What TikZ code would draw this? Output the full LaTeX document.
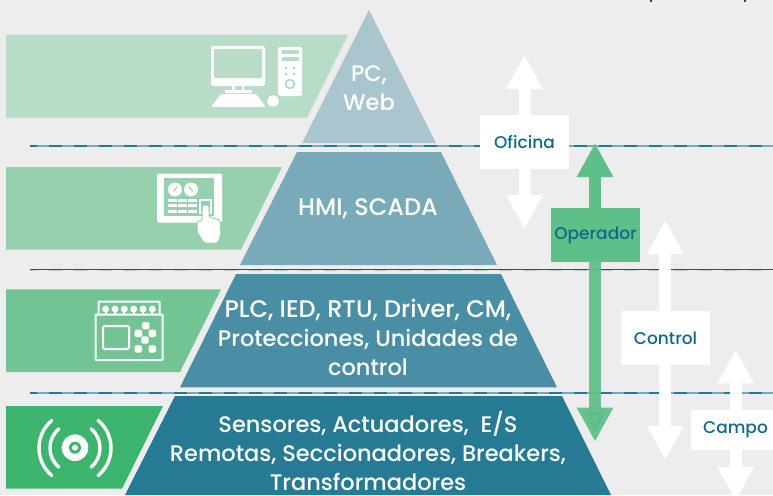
\documentclass[tikz,border=0pt]{standalone}
\usepackage{fontspec}
\setmainfont{Poppins Medium}
\usetikzlibrary{arrows.meta}
\definecolor{bgc}{HTML}{EDEDED}
\definecolor{tierA}{HTML}{A9C6CE}
\definecolor{tierB}{HTML}{79AABA}
\definecolor{tierC}{HTML}{4A8EA6}
\definecolor{tierD}{HTML}{267A94}
\definecolor{bandA}{HTML}{B9DCC8}
\definecolor{bandB}{HTML}{96D0AE}
\definecolor{bandC}{HTML}{72C494}
\definecolor{bandD}{HTML}{3DB46E}
\definecolor{opgreen}{HTML}{5EBF88}
\definecolor{txtblue}{HTML}{0F6A8A}
\definecolor{lineblue}{HTML}{1F7A98}
\definecolor{linelight}{HTML}{74A9BB}
\newcommand{\widerline}{\fontsize{24}{29}\selectfont}
\tikzset{
  tiertext/.style={text=white,font=\fontsize{22.5}{29}\selectfont,align=center,inner sep=0pt},
  tag/.style={fill=#1,minimum width=89pt,minimum height=54pt,inner sep=0pt,text=txtblue,font=\fontsize{17}{20}\selectfont},
  updown/.style={draw=#1,line width=12pt,-{Triangle[width=34pt,length=34pt,fill=#1]}},
  seplinebase/.style={line width=2pt,linelight},
  seplinedash/.style={line width=2pt,lineblue,dash pattern=on 12.5pt off 12.5pt,dash phase=6pt},
  icn/.style={fill=white,draw=none},
}
\begin{document}
\begin{tikzpicture}[x=1pt,y=-1pt]
\useasboundingbox (0,0) rectangle (773,495);
\fill[bgc] (0,0) rectangle (773,495);
\begin{scope}
\clip (0,0) rectangle (773,495);
% cut-off marks at the top edge
\fill[black!75] (650,0) rectangle (652,2);
\fill[black!75] (743.5,0) rectangle (745.5,2);
% bands
\fill[bandA] (6,35) -- (348,35) -- (307,117.5) -- (6,117.5) -- cycle;
\fill[bandB] (6,167) -- (282,167) -- (241,249.5) -- (6,249.5) -- cycle;
\fill[bandC] (6,289.3) -- (221,289.3) -- (180,372) -- (6,372) -- cycle;
\fill[bandD] (6,406) -- (163,406) -- (122,488.7) -- (6,488.7) -- cycle;
% pyramid
\fill[tierA] (369,10) -- (436,143) -- (302,143) -- cycle;
\fill[tierB] (297,152) -- (441,152) -- (497,265) -- (240,265) -- cycle;
\fill[tierC] (236,274) -- (501,274) -- (557,387.3) -- (180,387.3) -- cycle;
\fill[tierD] (175,396) -- (562,396) -- (611,495) -- (125,495) -- cycle;
% separators
\foreach \yy in {146,393}{
  \draw[seplinebase] (30,\yy) -- (773,\yy);
  \draw[seplinedash] (30,\yy) -- (773,\yy);
}
\draw[line width=1.2pt,lineblue!75!black] (30,269.5) -- (773,269.5);
\draw[line width=1pt,linelight,opacity=.5,dash pattern=on 12.5pt off 12.5pt,dash phase=6pt] (30,270.6) -- (773,270.6);
% tier text
\node[tiertext] (t1) at (369,88) {PC,\\Web};
\node[tiertext,font=\widerline] (t2) at (368,208.5) {HMI, SCADA};
\node[tiertext] (t3) at (368,337) {{\widerline PLC, IED, RTU, Driver, CM,}\\Protecciones, Unidades de\\control};
\node[tiertext] (t4) at (368,451) {Sensores, Actuadores,\ \ E/S\\Remotas, Seccionadores, Breakers,\\Transformadores};
% arrows
\coordinate (ofU) at (524.5,55);
\coordinate (ofD) at (524.5,229);
\coordinate (opU) at (595,143);
\coordinate (opD) at (595,441.7);
\coordinate (coU) at (665.3,220);
\coordinate (coD) at (665.3,460);
\coordinate (caU) at (735.7,349.3);
\coordinate (caD) at (735.7,501);
\node[tag=white] (of) at (524.5,142) {Oficina};
\node[tag=opgreen] (op) at (595.5,235) {Operador};
\node[tag=white] (co) at (665.5,338) {Control};
\node[tag=white,minimum height=40pt] (ca) at (735.5,430) {Campo};
\draw[updown=white] (of.north -| ofU) -- (ofU);
\draw[updown=white] (of.south -| ofD) -- (ofD);
\draw[updown=opgreen] (op.north -| opU) -- (opU);
\draw[updown=opgreen,opacity=.93] (op.south -| opD) -- (opD);
\draw[updown=white] (co.north -| coU) -- (coU);
\draw[updown=white] (co.south -| coD) -- (coD);
\draw[updown=white] (ca.north -| caU) -- (caU);
\draw[updown=white] (ca.south -| caD) -- (caD);
% computer icon
\fill[icn,rounded corners=2.5pt] (211,46) rectangle (265,86);
\fill[bandA,rounded corners=1pt] (214,49) rectangle (262,78);
\fill[icn] (232,86) rectangle (244,90);
\fill[bandA] (234.5,86) rectangle (241.5,90);
\fill[icn,rounded corners=.8pt] (225,90) rectangle (252,93);
\fill[icn,rounded corners=1.5pt] (221,94) -- (256,94) -- (266,107) -- (211,107) -- cycle;
\fill[icn] (273,101) circle (5.7);
\fill[icn,rounded corners=1.5pt] (278,47) rectangle (302,96);
\fill[bandA] (282,50) rectangle (299,54);
\fill[bandA] (282,57) rectangle (299,61);
\foreach \a/\b in {286/68,294/68,286/74,294/74}{\fill[bandA] (\a,\b) circle (1.7);}
\fill[bandA] (290,84) circle (5.5);
\fill[icn] (290,84) circle (3.2);
% HMI icon
\fill[icn,rounded corners=2pt] (157,173.5) rectangle (222,222.5);
\fill[bandB] (164,178) rectangle (214,216);
\fill[icn] (175,189.5) circle (7);
\fill[icn] (191,189.5) circle (7);
\draw[bandB,line width=1pt] (173.5,191.5) -- (177,187);
\draw[bandB,line width=1pt] (189,187) -- (193,191.5);
\foreach \yy in {200,205.5,211}{
  \foreach \xx in {168,178,188}{\fill[icn] (\xx,\yy-1.5) rectangle (\xx+8.5,\yy+1.5);}
}
\fill[icn] (199,199) rectangle (212,214);
\fill[bandB] (201,201) rectangle (210,212);
\fill[icn,draw=bandB,line width=1pt,rounded corners=1.5pt] (202,205) -- (209,205) -- (209,217) -- (220,220) -- (221,234) -- (218,243) -- (204,243) -- (197,232) -- (197,221) -- (202,221) -- cycle;
% PLC icon
\draw[white,line width=2pt,rounded corners=.5pt] (95.5,314.5) rectangle (162.5,360);
\draw[white,line width=2pt,rounded corners=.5pt] (98.5,314) -- (98.5,301.5) -- (159.5,301.5) -- (159.5,314);
\foreach \xx in {105.6,115,124.3,133.7,143,152.3}{
  \fill[icn] (\xx,309) circle (3.5);
  \fill[icn] (\xx-1,309) rectangle (\xx+1,314);
}
\draw[white,line width=2pt,rounded corners=1.5pt] (103,326) rectangle (129,349);
\foreach \a/\b in {145.7/325.7,138.3/333.3,152.3/333.3,145/340,138.3/349,152.3/349}{
  \fill[icn,rounded corners=1.5pt] (\a-3.7,\b-3.7) rectangle (\a+3.7,\b+3.7);
}
% sensor icon
\fill[icn] (75,447.7) circle (13.3);
\fill[bandD] (75,447.7) circle (6);
\fill[icn] (75,447.7) circle (3);
\draw[white,line width=3.4pt,line cap=round] (51.9,420.4) .. controls (34.7,434.8) and (34.7,461.2) .. (51.9,475.6);
\draw[white,line width=3.4pt,line cap=round] (98.1,420.4) .. controls (115.3,434.8) and (115.3,461.2) .. (98.1,475.6);
\draw[white,line width=3.4pt,line cap=round] (58.9,428.8) .. controls (47,438.8) and (47,457.2) .. (58.9,467.2);
\draw[white,line width=3.4pt,line cap=round] (91.1,428.8) .. controls (103,438.8) and (103,457.2) .. (91.1,467.2);
\end{scope}
\end{tikzpicture}
\end{document}
